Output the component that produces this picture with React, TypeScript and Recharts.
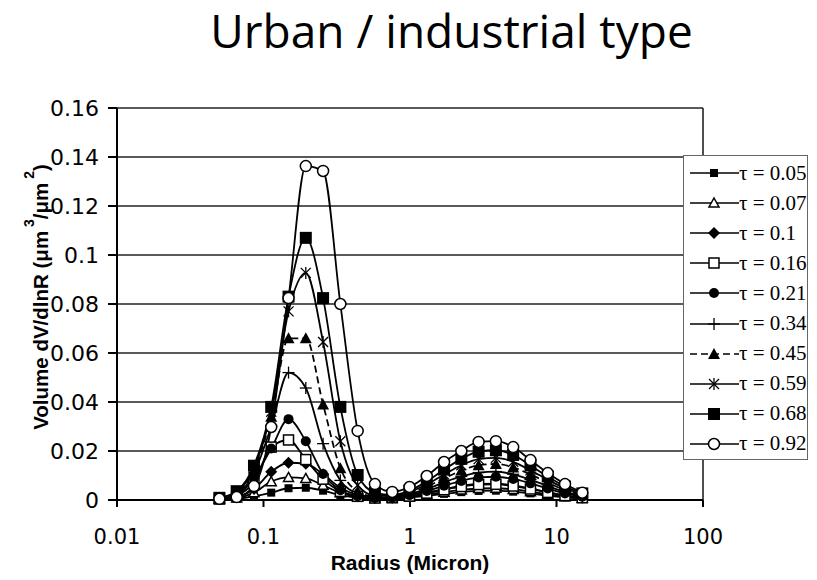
import React from "react";
import { LineChart, Line, XAxis, YAxis, CartesianGrid, Legend, ReferenceLine } from "recharts";

// radius bins (micron), log-spaced 0.05 .. 15
const radius = [
  0.05, 0.0656, 0.0861, 0.1129, 0.1482, 0.1944, 0.2551, 0.3347, 0.4392, 0.5762, 0.7561,
  0.9921, 1.302, 1.708, 2.241, 2.94, 3.858, 5.062, 6.642, 8.715, 11.43, 15.0,
];

// volume size distributions dV/dlnR for each optical depth
const tau005 = [0, 0.0005, 0.0015, 0.003, 0.0048, 0.005, 0.0038, 0.002, 0.0009, 0.0005, 0.0006, 0.001, 0.0017, 0.0025, 0.0032, 0.0037, 0.0038, 0.0034, 0.0027, 0.0018, 0.0011, 0.0006];
const tau007 = [0.0002, 0.0008, 0.003, 0.0075, 0.0092, 0.0088, 0.006, 0.003, 0.0012, 0.0006, 0.0007, 0.0013, 0.0022, 0.0032, 0.0041, 0.0047, 0.0048, 0.0043, 0.0034, 0.0023, 0.0013, 0.0007];
const tau010 = [0.0003, 0.0012, 0.0045, 0.0115, 0.0152, 0.0148, 0.0105, 0.005, 0.002, 0.0009, 0.0009, 0.0017, 0.003, 0.0045, 0.0058, 0.0066, 0.0067, 0.006, 0.0047, 0.0032, 0.0018, 0.0009];
const tau016 = [0.0004, 0.0018, 0.0075, 0.0216, 0.0245, 0.0165, 0.0085, 0.0035, 0.0015, 0.0008, 0.0009, 0.0016, 0.0028, 0.0042, 0.0055, 0.0063, 0.0064, 0.0057, 0.0045, 0.0031, 0.0018, 0.0009];
const tau021 = [0.0005, 0.002, 0.009, 0.021, 0.033, 0.024, 0.0106, 0.004, 0.0015, 0.0008, 0.001, 0.002, 0.0037, 0.0058, 0.0078, 0.0092, 0.0095, 0.0086, 0.0068, 0.0047, 0.0027, 0.0013];
const tau034 = [0.0006, 0.0025, 0.011, 0.03, 0.052, 0.0457, 0.023, 0.008, 0.0025, 0.001, 0.0012, 0.0024, 0.0045, 0.0072, 0.0096, 0.0112, 0.0116, 0.0105, 0.0083, 0.0057, 0.0033, 0.0016];
const tau045 = [0.0007, 0.003, 0.012, 0.034, 0.066, 0.066, 0.039, 0.013, 0.0035, 0.0013, 0.0014, 0.0028, 0.0055, 0.0088, 0.012, 0.0142, 0.0147, 0.0133, 0.0104, 0.0071, 0.004, 0.002];
const tau059 = [0.0008, 0.0033, 0.013, 0.036, 0.077, 0.0927, 0.0645, 0.024, 0.006, 0.0018, 0.0016, 0.0032, 0.0064, 0.0104, 0.0142, 0.0167, 0.0172, 0.0156, 0.0121, 0.0083, 0.0047, 0.0023];
const tau068 = [0.0009, 0.0036, 0.014, 0.038, 0.083, 0.107, 0.0824, 0.038, 0.0102, 0.003, 0.002, 0.0038, 0.0076, 0.0124, 0.0168, 0.0197, 0.0203, 0.0184, 0.0141, 0.0096, 0.0055, 0.0027];
const tau092 = [0.0005, 0.0012, 0.0057, 0.0298, 0.0824, 0.1363, 0.1343, 0.08, 0.0282, 0.0065, 0.0033, 0.0053, 0.0098, 0.0155, 0.02, 0.0237, 0.024, 0.0216, 0.0163, 0.011, 0.0065, 0.003];

const xTicks = [0.01, 0.1, 1, 10, 100];
const yTicks = [0, 0.02, 0.04, 0.06, 0.08, 0.1, 0.12, 0.14, 0.16];

type Shape =
  | "square" | "openTriangle" | "diamond" | "openSquare" | "dot"
  | "plus" | "triangle" | "star" | "bigSquare" | "openCircle";

const series: { key: string; label: string; values: number[]; shape: Shape; dash?: string }[] = [
  { key: "t005", label: "0.05", values: tau005, shape: "square" },
  { key: "t007", label: "0.07", values: tau007, shape: "openTriangle" },
  { key: "t010", label: "0.1", values: tau010, shape: "diamond" },
  { key: "t016", label: "0.16", values: tau016, shape: "openSquare" },
  { key: "t021", label: "0.21", values: tau021, shape: "dot" },
  { key: "t034", label: "0.34", values: tau034, shape: "plus" },
  { key: "t045", label: "0.45", values: tau045, shape: "triangle", dash: "7 4" },
  { key: "t059", label: "0.59", values: tau059, shape: "star" },
  { key: "t068", label: "0.68", values: tau068, shape: "bigSquare" },
  { key: "t092", label: "0.92", values: tau092, shape: "openCircle" },
];

const data = radius.map((r, i) => {
  const row: Record<string, number> = { r };
  series.forEach((s) => (row[s.key] = s.values[i]));
  return row;
});

function Marker({ shape, x, y }: { shape: Shape; x: number; y: number }) {
  const k = "#000";
  switch (shape) {
    case "square":
      return <rect x={x - 4} y={y - 4} width={8} height={8} fill={k} />;
    case "bigSquare":
      return <rect x={x - 6} y={y - 6} width={12} height={12} fill={k} />;
    case "openSquare":
      return <rect x={x - 5} y={y - 5} width={10} height={10} fill="#fff" stroke={k} strokeWidth={1.5} />;
    case "openTriangle":
      return <polygon points={`${x},${y - 5} ${x + 5},${y + 4} ${x - 5},${y + 4}`} fill="#fff" stroke={k} strokeWidth={1.5} />;
    case "triangle":
      return <polygon points={`${x},${y - 6} ${x + 6},${y + 5} ${x - 6},${y + 5}`} fill={k} />;
    case "diamond":
      return <polygon points={`${x},${y - 6} ${x + 6},${y} ${x},${y + 6} ${x - 6},${y}`} fill={k} />;
    case "dot":
      return <circle cx={x} cy={y} r={5} fill={k} />;
    case "openCircle":
      return <circle cx={x} cy={y} r={5.5} fill="#fff" stroke={k} strokeWidth={1.5} />;
    case "plus":
      return (
        <g stroke={k} strokeWidth={1.3}>
          <line x1={x - 6} y1={y} x2={x + 6} y2={y} />
          <line x1={x} y1={y - 6} x2={x} y2={y + 6} />
        </g>
      );
    case "star":
      return (
        <g stroke={k} strokeWidth={1.3}>
          <line x1={x - 5} y1={y - 5} x2={x + 5} y2={y + 5} />
          <line x1={x - 5} y1={y + 5} x2={x + 5} y2={y - 5} />
          <line x1={x} y1={y - 6} x2={x} y2={y + 6} />
        </g>
      );
  }
  return null;
}

const fmtY = (v: number) => String(Number(v.toFixed(2)));

const renderLegend = () => (
  <div
    style={{
      width: 125,
      height: 305,
      boxSizing: "border-box",
      border: "1px solid #666",
      background: "#fff",
      paddingTop: 2,
    }}
  >
    {series.map((s) => (
      <div key={s.key} style={{ height: 30.1, display: "flex", alignItems: "center" }}>
        <svg width={55} height={20} style={{ flex: "none" }}>
          <line x1={6} y1={10} x2={55} y2={10} stroke="#000" strokeWidth={1.6} strokeDasharray={s.dash} />
          <Marker shape={s.shape} x={30} y={10} />
        </svg>
        <span style={{ fontFamily: "Liberation Serif", fontSize: 21, whiteSpace: "nowrap", color: "#000" }}>
          τ = {s.label}
        </span>
      </div>
    ))}
  </div>
);

const renderYTitle = (props: any) => {
  const vb = props.viewBox || { x: 57, y: 108, width: 60, height: 392 };
  const cx = vb.x - 17;
  const cy = vb.y + vb.height / 2 - 7;
  return (
    <text
      x={cx}
      y={cy}
      transform={`rotate(-90 ${cx} ${cy})`}
      textAnchor="middle"
      dominantBaseline="central"
      fontFamily="Liberation Sans"
      fontWeight="bold"
      fontSize={20.5}
      fill="#000"
    >
      Volume dV/dlnR (μm
      <tspan dy={-11} fontSize={14}> 3</tspan>
      <tspan dy={11}>/μm</tspan>
      <tspan dy={-11} fontSize={14}> 2</tspan>
      <tspan dy={11}>)</tspan>
    </text>
  );
};

const renderXTitle = (props: any) => {
  const vb = props.viewBox || { x: 117, y: 500, width: 586, height: 60 };
  return (
    <text
      x={vb.x + vb.width / 2}
      y={vb.y + 62}
      textAnchor="middle"
      dominantBaseline="central"
      fontFamily="Liberation Sans"
      fontWeight="bold"
      fontSize={21}
      fill="#000"
    >
      Radius (Micron)
    </text>
  );
};

export default function App() {
  return (
    <div style={{ position: "absolute", left: 0, top: 0, width: 817, height: 580, background: "#fff" }}>
      <div
        style={{
          position: "absolute",
          left: 0,
          width: 903,
          top: 0,
          textAlign: "center",
          fontFamily: "Open Sans",
          fontSize: 46,
          lineHeight: "60px",
          color: "#000",
        }}
      >
        Urban / industrial type
      </div>
      <LineChart
        width={817}
        height={580}
        data={data}
        margin={{ top: 108, right: 114, bottom: 20, left: 57 }}
      >
        <CartesianGrid vertical={false} stroke="#222" strokeWidth={1.6} />
        <XAxis
          dataKey="r"
          type="number"
          scale="log"
          domain={[0.01, 100]}
          ticks={xTicks}
          allowDataOverflow
          height={60}
          tickSize={7}
          tickMargin={22}
          stroke="#000"
          strokeWidth={2}
          tick={{ fill: "#000", fontFamily: "DejaVu Sans", fontSize: 21 }}
          label={{ content: renderXTitle }}
        />
        <YAxis
          type="number"
          domain={[0, 0.16]}
          ticks={yTicks}
          width={60}
          tickSize={9}
          tickMargin={9}
          tickFormatter={fmtY}
          stroke="#000"
          strokeWidth={2}
          tick={{ fill: "#000", fontFamily: "DejaVu Sans", fontSize: 22 }}
          label={{ content: renderYTitle }}
        />
        <ReferenceLine x={100} stroke="#222" strokeWidth={1.6} />
        <Legend
          layout="vertical"
          align="center"
          verticalAlign="middle"
          content={renderLegend}
          wrapperStyle={{ left: 683, top: 155, width: 125, height: 305 }}
        />
        {series.map((s) => (
          <Line
            key={s.key}
            dataKey={s.key}
            type="monotone"
            stroke="#000"
            strokeWidth={1.8}
            strokeDasharray={s.dash}
            isAnimationActive={false}
            dot={(p: any) => (
              <g key={`${s.key}-${p.index}`}>
                <Marker shape={s.shape} x={p.cx} y={p.cy} />
              </g>
            )}
            activeDot={false}
          />
        ))}
      </LineChart>
    </div>
  );
}
